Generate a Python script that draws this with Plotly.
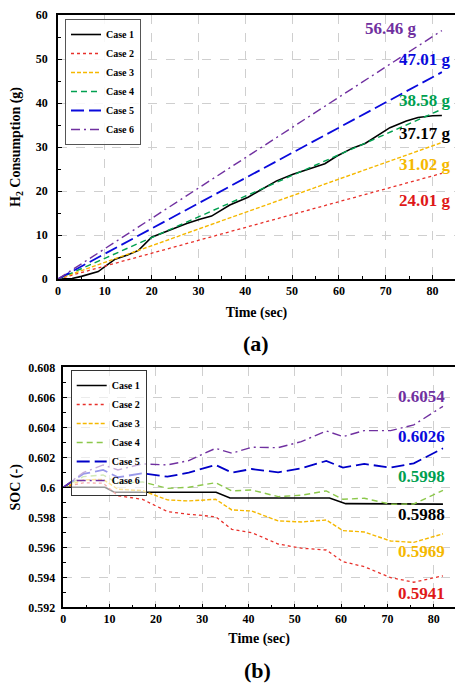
import plotly.graph_objects as go

# ---------------- data ----------------
case_names = ["Case 1", "Case 2", "Case 3", "Case 4", "Case 5", "Case 6"]

# (a) H2 consumption (g)
h2_t_case1 = [0, 3, 5, 8.6, 10, 12.2, 14.7, 17.2, 20, 22.5, 25.3, 27.5, 30.3, 32.8,
              36.7, 40.6, 43.8, 46.7, 50.2, 53.8, 57, 59.5, 63, 65.6, 68, 70.9,
              74.4, 76.9, 80, 82]
h2_case1 = [0, 0.1, 0.6, 1.7, 2.8, 4.5, 5.4, 6.5, 9.5, 10.6, 11.7, 12.6, 13.6, 14.3,
            16.8, 18.6, 20.6, 22.3, 23.8, 25.1, 26.2, 27.9, 29.8, 30.8, 32.5, 34.4,
            35.9, 36.7, 37.1, 37.17]
h2_t_linear = [0, 82]
h2_case2 = [0, 24.01]
h2_case3 = [0, 31.02]
h2_case4 = [0, 38.58]
h2_case5 = [0, 47.01]
h2_case6 = [0, 56.46]
h2_final = [37.17, 24.01, 31.02, 38.58, 47.01, 56.46]

# (b) SOC (-)
soc_t_case1 = [0, 9, 11, 33, 36, 57.5, 61, 82]
soc_case1 = [0.6, 0.6, 0.59967, 0.59967, 0.59929, 0.59929, 0.59891, 0.59888]
soc_t = [0, 4.3, 8.6, 11.8, 17.1, 22.5, 27.1, 32.9, 36.4, 40.7, 46.4, 51.4,
         56.8, 60.4, 65, 70.7, 75.7, 82]
soc_case2 = [0.6, 0.6003, 0.60027, 0.59944, 0.5992, 0.59838, 0.5982, 0.59804, 0.5972,
             0.59698, 0.59622, 0.59594, 0.59582, 0.59504, 0.59471, 0.59398, 0.59367, 0.5941]
soc_case3 = [0.6, 0.60049, 0.60053, 0.59987, 0.59978, 0.59916, 0.59909, 0.5992, 0.59849,
             0.59842, 0.59776, 0.59769, 0.59782, 0.59711, 0.59702, 0.59642, 0.59633, 0.5969]
soc_case4 = [0.6, 0.60071, 0.60082, 0.60027, 0.60036, 0.59993, 0.6, 0.60031, 0.59976,
             0.59982, 0.59938, 0.59947, 0.59976, 0.5992, 0.59927, 0.59887, 0.59889, 0.5998]
soc_case5 = [0.6, 0.60089, 0.60116, 0.60067, 0.60093, 0.60071, 0.60098, 0.60149, 0.60098,
             0.60122, 0.601, 0.60127, 0.60176, 0.60131, 0.60156, 0.60131, 0.6016, 0.6026]
soc_case6 = [0.6, 0.60098, 0.60149, 0.60116, 0.60156, 0.60149, 0.60178, 0.6026, 0.60227,
             0.60267, 0.60264, 0.60304, 0.60376, 0.60338, 0.60378, 0.60378, 0.60416, 0.6054]
soc_final = ["0.5988", "0.5941", "0.5969", "0.5998", "0.6026", "0.6054"]

x_ticks = [0, 10, 20, 30, 40, 50, 60, 70, 80]
h2_ticks = [0, 10, 20, 30, 40, 50, 60]
soc_tickvals = [0.592, 0.594, 0.596, 0.598, 0.6, 0.602, 0.604, 0.606, 0.608]
soc_ticktext = ["0.592", "0.594", "0.596", "0.598", "0.6", "0.602", "0.604", "0.606", "0.608"]

# ---------------- styles ----------------
FONT = "Liberation Serif, Times New Roman, serif"
colors_a = ["#000000", "#E8302A", "#F5B800", "#00A050", "#0A0ADC", "#7030A0"]
colors_b = ["#000000", "#E8302A", "#F5B800", "#8CC84B", "#0000C8", "#7030A0"]
label_colors = ["#000000", "#E01818", "#F5B800", "#00A050", "#0A0ADC", "#7030A0"]
dashes = ["solid", "dot", "4px,2px", "6px,4px", "13px,5px", "9px,4px,2px,4px"]
widths = [1.6, 1.3, 1.4, 1.4, 1.8, 1.4]

# page has an 8px body margin: figure occupies the visible 455x676 area
OFF = 8
W, H = 463 - OFF, 684 - OFF


def px(xp):
    return (xp - OFF) / W


def py(yp):
    return 1 - (yp - OFF) / H


fig = go.Figure()

h2_series = [(h2_t_case1, h2_case1), (h2_t_linear, h2_case2), (h2_t_linear, h2_case3),
             (h2_t_linear, h2_case4), (h2_t_linear, h2_case5), (h2_t_linear, h2_case6)]
for i, (t, y) in enumerate(h2_series):
    fig.add_trace(go.Scatter(x=t, y=y, mode="lines", name=case_names[i],
                             line=dict(color=colors_a[i], dash=dashes[i], width=widths[i]),
                             xaxis="x", yaxis="y", legend="legend"))

soc_series = [(soc_t_case1, soc_case1), (soc_t, soc_case2), (soc_t, soc_case3),
              (soc_t, soc_case4), (soc_t, soc_case5), (soc_t, soc_case6)]
for i, (t, y) in enumerate(soc_series):
    fig.add_trace(go.Scatter(x=t, y=y, mode="lines", name=case_names[i],
                             line=dict(color=colors_b[i], dash=dashes[i], width=widths[i]),
                             xaxis="x2", yaxis="y2", legend="legend2"))

tickfont = dict(family=FONT, size=12, color="#000000", weight="bold")
titlefont = dict(family=FONT, size=14, color="#000000", weight="bold")
common_axis = dict(showline=True, linecolor="#000000", linewidth=1.5, mirror=True,
                   ticks="inside", ticklen=4, tickcolor="#000000", tickfont=tickfont,
                   showgrid=True, gridcolor="#CFCFCF", griddash="dash", gridwidth=1,
                   zeroline=False, automargin=False, ticklabeloverflow="allow")

fig.update_layout(
    width=W, height=H, autosize=False,
    margin=dict(l=0, r=0, t=0, b=0, autoexpand=False),
    plot_bgcolor="white", paper_bgcolor="white",
    font=dict(family=FONT, color="#000000"),
    xaxis=dict(domain=[px(58), px(455)], range=[0, 84.8], tickvals=x_ticks,
               minor=dict(ticks="inside", ticklen=3, dtick=5, tick0=0, tickcolor="#000000", showgrid=False),
               title=dict(text="Time (sec)", font=titlefont, standoff=10),
               anchor="y", **common_axis),
    yaxis=dict(domain=[py(279), py(15)], range=[0, 60], tickvals=h2_ticks,
               minor=dict(ticks="inside", ticklen=3, dtick=5, tick0=0, tickcolor="#000000", showgrid=False),
               title=dict(text="H<sub>2</sub> Consumption (g)", font=titlefont, standoff=14),
               ticklabelstandoff=6, anchor="x", **common_axis),
    xaxis2=dict(domain=[px(63.3), px(455)], range=[0, 84.6], tickvals=x_ticks,
                minor=dict(ticks="inside", ticklen=3, dtick=5, tick0=0, tickcolor="#000000", showgrid=False),
                title=dict(text="Time (sec)", font=titlefont, standoff=8),
                anchor="y2", **common_axis),
    yaxis2=dict(domain=[py(607.3), py(367.3)], range=[0.592, 0.608],
                tickvals=soc_tickvals, ticktext=soc_ticktext,
                minor=dict(ticks="inside", ticklen=3, dtick=0.001, tick0=0.592, tickcolor="#000000", showgrid=False),
                title=dict(text="SOC (-)", font=titlefont, standoff=12),
                ticklabelstandoff=4, anchor="x2", **common_axis),
    legend=dict(x=px(65), y=py(19), xanchor="left", yanchor="top",
                bgcolor="rgba(255,255,255,0.85)", bordercolor="#555555", borderwidth=1,
                font=dict(family=FONT, size=10, color="#000000", weight="bold"),
                tracegroupgap=0, itemwidth=30),
    legend2=dict(x=px(70.7), y=py(370), xanchor="left", yanchor="top",
                 bgcolor="rgba(255,255,255,0.6)", bordercolor="#333333", borderwidth=1,
                 font=dict(family=FONT, size=10, color="#000000", weight="bold"),
                 tracegroupgap=0, itemwidth=30),
    showlegend=True,
)

# end-value labels (a)
a_label_y = [133, 201, 164, 100, 60, 29]
a_label_x = [453, 453, 453, 453, 453, 419]
for i in range(6):
    fig.add_annotation(x=px(a_label_x[i]), y=py(a_label_y[i]), xref="paper", yref="paper",
                       text=f"{h2_final[i]:.2f} g", showarrow=False, xanchor="right", yanchor="middle",
                       font=dict(family=FONT, size=17, color=label_colors[i], weight="bold"))

# end-value labels (b)
b_label_y = [514, 593, 551, 476, 436, 396.7]
for i in range(6):
    fig.add_annotation(x=px(447), y=py(b_label_y[i]), xref="paper", yref="paper",
                       text=soc_final[i], showarrow=False, xanchor="right", yanchor="middle",
                       font=dict(family=FONT, size=17, color=label_colors[i], weight="bold"))

# panel captions
fig.add_annotation(x=px(256), y=py(343), xref="paper", yref="paper", text="(a)",
                   showarrow=False, xanchor="center", yanchor="middle",
                   font=dict(family=FONT, size=22, color="#000000", weight="bold"))
fig.add_annotation(x=px(257), y=py(670), xref="paper", yref="paper", text="(b)",
                   showarrow=False, xanchor="center", yanchor="middle",
                   font=dict(family=FONT, size=22, color="#000000", weight="bold"))

fig.write_html("out.html")
